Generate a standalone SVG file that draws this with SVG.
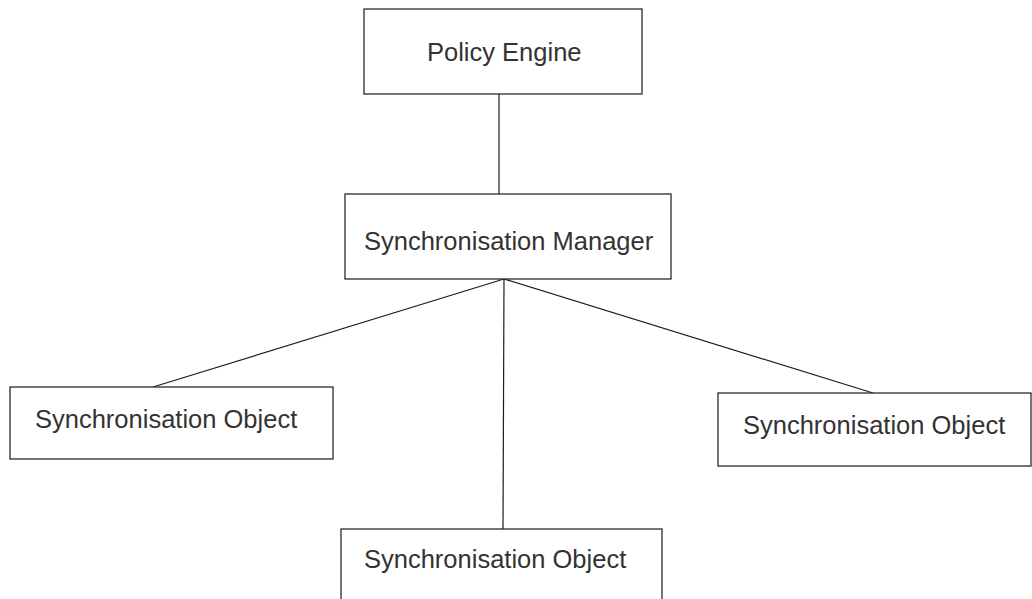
<svg xmlns="http://www.w3.org/2000/svg" width="1032" height="599" viewBox="0 0 1032 599">
<style>
.box{fill:#fff;stroke:#2b2b2b;stroke-width:1.3}
.lbl{font-family:"Liberation Sans",Arial,sans-serif;font-size:25.5px;fill:#333}
.con{stroke:#1e1e1e;stroke-width:1.2;fill:none}
</style>
<rect width="1032" height="599" fill="#fff"/>
<g id="connectors">
<line class="con" x1="499" y1="94" x2="499" y2="194"/>
<line class="con" x1="504" y1="279" x2="153" y2="387"/>
<line class="con" x1="504" y1="279" x2="503" y2="529"/>
<line class="con" x1="504" y1="279" x2="873" y2="393"/>
</g>
<g id="policy-engine">
<rect class="box" x="364" y="9" width="278" height="85"/>
<text class="lbl" x="427" y="61">Policy Engine</text>
</g>
<g id="sync-manager">
<rect class="box" x="345" y="194" width="326" height="85"/>
<text class="lbl" x="364" y="250">Synchronisation Manager</text>
</g>
<g id="sync-object-left">
<rect class="box" x="10" y="387" width="323" height="72"/>
<text class="lbl" x="35" y="428">Synchronisation Object</text>
</g>
<g id="sync-object-right">
<rect class="box" x="718" y="393" width="313" height="73"/>
<text class="lbl" x="743" y="434">Synchronisation Object</text>
</g>
<g id="sync-object-bottom">
<rect class="box" x="341" y="529" width="321" height="80"/>
<text class="lbl" x="364" y="568">Synchronisation Object</text>
</g>
</svg>
